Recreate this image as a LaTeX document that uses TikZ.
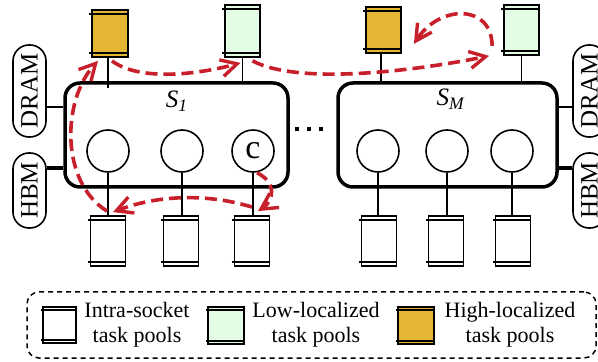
\documentclass[tikz,border=0pt]{standalone}
\usepackage{fontspec}
\setmainfont{Liberation Serif}
\usetikzlibrary{arrows.meta,calc}
\definecolor{goldc}{HTML}{E3B733}
\definecolor{greenc}{HTML}{E4FBE4}
\definecolor{redc}{HTML}{C8202A}
\tikzset{
  socket/.style={draw, line width=1.75pt, rounded corners=7.5pt, inner sep=0pt},
  core/.style={draw, circle, line width=0.8pt, minimum size=21pt, inner sep=0pt, font=\fontsize{17}{18}\selectfont},
  pool/.style={draw, line width=0.9pt, inner sep=0pt, minimum width=17.5pt},
  memlabel/.style={draw, line width=0.8pt, rotate=90, rounded corners=8pt, minimum height=16.5pt, inner sep=0pt, font=\fontsize{12.5}{13}\selectfont},
  thinline/.style={line width=0.8pt},
  thickline/.style={line width=1.8pt},
  strip/.style={line width=0.9pt},
  migr/.style={draw=redc, line width=1.8pt, dash pattern=on 6pt off 3pt, -{Straight Barb[length=8pt,width=8.5pt,line width=1.7pt]}},
  legtext/.style={align=center, font=\fontsize{11}{12.5}\selectfont, inner sep=0pt},
  dotsq/.style={fill=black, minimum size=2pt, inner sep=0pt}
}
\begin{document}
\begin{tikzpicture}[x=0.5pt,y=-0.5pt]
\useasboundingbox (0,0) rectangle (598,362);

% sockets
\node[socket, minimum width=111.5pt, minimum height=52pt] (s1) at (176.5,135) {};
\node[socket, minimum width=109.5pt, minimum height=52pt] (sm) at (447.5,135) {};
\node[font=\fontsize{12.5}{13}\selectfont] (l1) at (177,101) {\textit{S}\textsubscript{\textit{1}}};
\node[font=\fontsize{12.5}{13}\selectfont] (lm) at (451,99) {\textit{S}\textsubscript{\textit{M}}};

% dots
\node[dotsq] (d1) at (297,129) {};
\node[dotsq] (d2) at (309,129) {};
\node[dotsq] (d3) at (321,129) {};

% cores
\node[core] (c1) at (108,151) {};
\node[core] (c2) at (182,151) {};
\node[core] (c3) at (253,151) {c};
\node[core] (c4) at (378,151) {};
\node[core] (c5) at (447,151) {};
\node[core] (c6) at (512,151) {};

% bottom pools
\node[pool, minimum height=25pt] (pb1) at (108,241) {};
\node[pool, minimum height=25pt] (pb2) at (181,241) {};
\node[pool, minimum height=25pt] (pb3) at (252,241) {};
\node[pool, minimum height=25pt] (pb4) at (379,241) {};
\node[pool, minimum height=25pt] (pb5) at (446,241) {};
\node[pool, minimum height=25pt] (pb6) at (513,241) {};

% top pools
\node[pool, fill=goldc, minimum width=18pt, minimum height=23.5pt] (pg1) at (110,33.5) {};
\node[pool, fill=greenc, minimum height=26pt] (pl1) at (242.5,31) {};
\node[pool, fill=goldc, minimum height=23pt] (pg2) at (383.5,30) {};
\node[pool, fill=greenc, minimum height=25pt] (pl2) at (521.5,30) {};

% strips
\foreach \p in {pb1,pb2,pb3,pb4,pb5,pb6,pg1,pl1,pg2,pl2}{
  \draw[strip] ([shift={(-1pt,-2.5pt)}]\p.north west) -- ([yshift=-2.5pt]\p.north east);
  \draw[strip] ([shift={(-1pt,2.5pt)}]\p.south west) -- ([yshift=2.5pt]\p.south east);
}

% core to pool lines
\foreach \c/\p in {c1/pb1,c2/pb2,c3/pb3,c4/pb4,c5/pb5,c6/pb6}{
  \draw[thinline] (\c.south) -- (\c.south |- \p.north);
}
% top pool lines
\draw[thinline] (pg1.south -| 108,0) -- (108,88);
\draw[thinline] (pl1.south) -- (pl1.south |- s1.north);
\draw[thinline] (pg2.south -| 381,0) -- (381,83);
\draw[thinline] (pl2.south) -- (pl2.south |- sm.north);

% memory labels
\node[memlabel, minimum width=46pt] (dramL) at (29.5,91) {DRAM};
\node[memlabel, minimum width=37.5pt] (hbmL) at (29.5,190.5) {HBM};
\node[memlabel, minimum width=46pt] (dramR) at (589.5,91) {DRAM};
\node[memlabel, minimum width=37.5pt] (hbmR) at (589.5,190.5) {HBM};
\draw[thinline] (dramL.south |- 0,107) -- (s1.west |- 0,107);
\draw[thickline] (hbmL.south |- 0,168) -- (s1.west |- 0,168);
\draw[thinline] (sm.east |- 0,107) -- (dramR.north |- 0,107);
\draw[thickline] (sm.east |- 0,168) -- (hbmR.north |- 0,168);

% migration arrows
\draw[migr] ([xshift=2pt]c3.south) .. controls (276,182) and (275,200) .. ([shift={(3pt,2pt)}]pb3.north);
\draw[migr] ([yshift=4pt]pb3.north) .. controls (210,194) and (160,194) .. ([shift={(2.5pt,1.5pt)}]pb1.north);
\draw[migr] ([shift={(-0.5pt,2pt)}]pb1.north) .. controls (60,182) and (62,100) .. ([shift={(-6pt,-1.5pt)}]pg1.south);
\draw[migr] ([shift={(1pt,-1.5pt)}]pg1.south) .. controls (140,82) and (200,74) .. ([shift={(-1pt,-2.5pt)}]pl1.south);
\draw[migr] ([shift={(5pt,-1.5pt)}]pl1.south) .. controls (300,86) and (420,70) .. ([xshift=-7pt]pl2.south west);
\draw[migr] ([shift={(-5.5pt,5pt)}]pl2.south west) .. controls (492,4) and (440,4) .. ([shift={(6pt,5pt)}]pg2.south east);

% legend
\node[draw, dash pattern=on 2.5pt off 2pt, line width=0.75pt, rounded corners=6pt, minimum width=284.5pt, minimum height=33pt] (leg) at (311.5,325) {};
\node[pool, minimum width=16.5pt, minimum height=18pt] (i1) at (59.5,325) {};
\node[pool, fill=greenc, minimum width=18pt, minimum height=18.5pt] (i2) at (226,325.5) {};
\node[pool, fill=goldc, minimum width=18pt, minimum height=18.5pt] (i3) at (416,325.5) {};
\foreach \p in {i1,i2,i3}{
  \draw[strip] ([shift={(-0.5pt,-2pt)}]\p.north west) -- ([yshift=-2pt]\p.north east);
  \draw[strip] ([shift={(-0.5pt,2pt)}]\p.south west) -- ([yshift=2pt]\p.south east);
}
\node[legtext] (t1) at (137,325) {Intra-socket\\task pools};
\node[legtext] (t2) at (316,325) {Low-localized\\task pools};
\node[legtext] (t3) at (510,325) {High-localized\\task pools};
\end{tikzpicture}
\end{document}
